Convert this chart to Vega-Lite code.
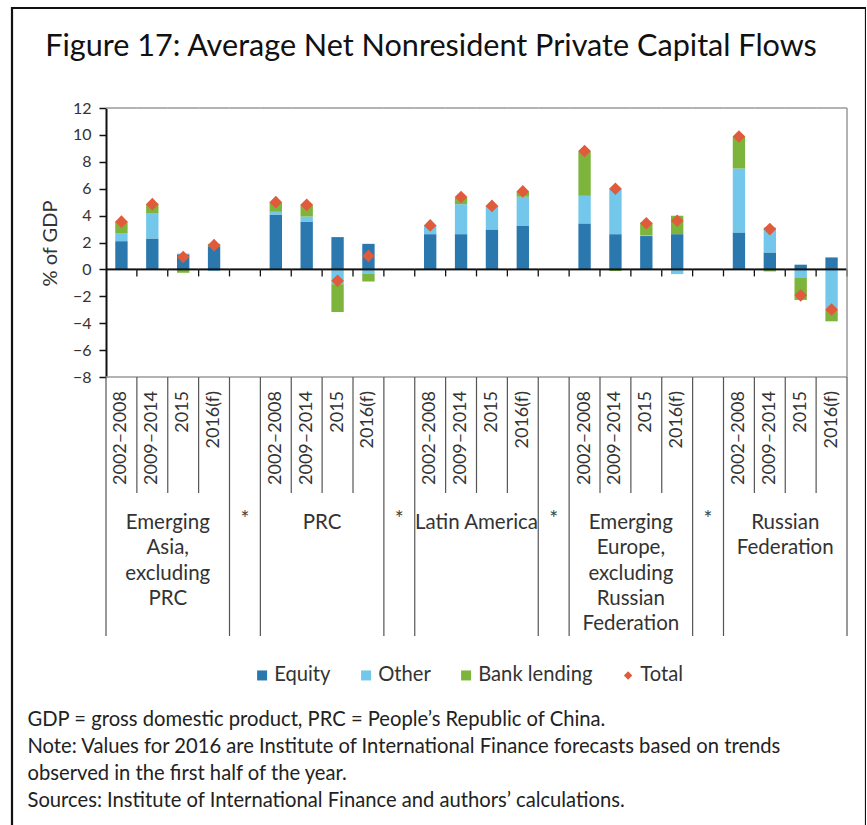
{
  "$schema": "https://vega.github.io/schema/vega-lite/v6.json",
  "width": 854,
  "height": 830,
  "autosize": {"type": "none"},
  "padding": {"left": 12, "top": 8, "right": 0, "bottom": 0},
  "background": "white",
  "config": {
    "view": {"stroke": "#111", "strokeWidth": 2.2},
    "font": "Lato",
    "axis": {"labelFont": "Lato", "titleFont": "Lato"},
    "legend": {"labelFont": "Lato"}
  },
  "title": {
    "text": "Figure 17: Average Net Nonresident Private Capital Flows",
    "font": "Lato",
    "fontSize": 30.6,
    "fontWeight": "normal",
    "color": "#111",
    "anchor": "middle",
    "frame": "group",
    "baseline": "alphabetic",
    "offset": -79,
    "dx": -8
  },
  "datasets": {
    "slots": [
      {"slot": "EA 2002–2008", "period": "2002–2008", "group": "Emerging\nAsia,\nexcluding\nPRC"},
      {"slot": "EA 2009–2014", "period": "2009–2014", "group": "Emerging\nAsia,\nexcluding\nPRC"},
      {"slot": "EA 2015", "period": "2015", "group": "Emerging\nAsia,\nexcluding\nPRC"},
      {"slot": "EA 2016(f)", "period": "2016(f)", "group": "Emerging\nAsia,\nexcluding\nPRC"},
      {"slot": "S1", "period": "*", "group": "*"},
      {"slot": "PRC 2002–2008", "period": "2002–2008", "group": "PRC"},
      {"slot": "PRC 2009–2014", "period": "2009–2014", "group": "PRC"},
      {"slot": "PRC 2015", "period": "2015", "group": "PRC"},
      {"slot": "PRC 2016(f)", "period": "2016(f)", "group": "PRC"},
      {"slot": "S2", "period": "*", "group": "*"},
      {"slot": "LA 2002–2008", "period": "2002–2008", "group": "Latin America"},
      {"slot": "LA 2009–2014", "period": "2009–2014", "group": "Latin America"},
      {"slot": "LA 2015", "period": "2015", "group": "Latin America"},
      {"slot": "LA 2016(f)", "period": "2016(f)", "group": "Latin America"},
      {"slot": "S3", "period": "*", "group": "*"},
      {"slot": "EE 2002–2008", "period": "2002–2008", "group": "Emerging\nEurope,\nexcluding\nRussian\nFederation"},
      {"slot": "EE 2009–2014", "period": "2009–2014", "group": "Emerging\nEurope,\nexcluding\nRussian\nFederation"},
      {"slot": "EE 2015", "period": "2015", "group": "Emerging\nEurope,\nexcluding\nRussian\nFederation"},
      {"slot": "EE 2016(f)", "period": "2016(f)", "group": "Emerging\nEurope,\nexcluding\nRussian\nFederation"},
      {"slot": "S4", "period": "*", "group": "*"},
      {"slot": "RU 2002–2008", "period": "2002–2008", "group": "Russian\nFederation"},
      {"slot": "RU 2009–2014", "period": "2009–2014", "group": "Russian\nFederation"},
      {"slot": "RU 2015", "period": "2015", "group": "Russian\nFederation"},
      {"slot": "RU 2016(f)", "period": "2016(f)", "group": "Russian\nFederation"}
    ],
    "flows": [
      {"slot": "EA 2002–2008", "component": "Equity", "value": 2.1},
      {"slot": "EA 2002–2008", "component": "Other", "value": 0.6},
      {"slot": "EA 2002–2008", "component": "Bank lending", "value": 0.85},
      {"slot": "EA 2002–2008", "component": "Total", "value": 3.55},
      {"slot": "EA 2009–2014", "component": "Equity", "value": 2.3},
      {"slot": "EA 2009–2014", "component": "Other", "value": 1.85},
      {"slot": "EA 2009–2014", "component": "Bank lending", "value": 0.72},
      {"slot": "EA 2009–2014", "component": "Total", "value": 4.85},
      {"slot": "EA 2015", "component": "Equity", "value": 1.12},
      {"slot": "EA 2015", "component": "Other", "value": 0.06},
      {"slot": "EA 2015", "component": "Bank lending", "value": -0.25},
      {"slot": "EA 2015", "component": "Total", "value": 0.92},
      {"slot": "EA 2016(f)", "component": "Equity", "value": 1.72},
      {"slot": "EA 2016(f)", "component": "Other", "value": -0.12},
      {"slot": "EA 2016(f)", "component": "Bank lending", "value": 0.18},
      {"slot": "EA 2016(f)", "component": "Total", "value": 1.8},
      {"slot": "PRC 2002–2008", "component": "Equity", "value": 4.08},
      {"slot": "PRC 2002–2008", "component": "Other", "value": 0.2},
      {"slot": "PRC 2002–2008", "component": "Bank lending", "value": 0.72},
      {"slot": "PRC 2002–2008", "component": "Total", "value": 5.0},
      {"slot": "PRC 2009–2014", "component": "Equity", "value": 3.56},
      {"slot": "PRC 2009–2014", "component": "Other", "value": 0.37},
      {"slot": "PRC 2009–2014", "component": "Bank lending", "value": 0.87},
      {"slot": "PRC 2009–2014", "component": "Total", "value": 4.8},
      {"slot": "PRC 2015", "component": "Equity", "value": 2.4},
      {"slot": "PRC 2015", "component": "Other", "value": -1.1},
      {"slot": "PRC 2015", "component": "Bank lending", "value": -2.07},
      {"slot": "PRC 2015", "component": "Total", "value": -0.85},
      {"slot": "PRC 2016(f)", "component": "Equity", "value": 1.9},
      {"slot": "PRC 2016(f)", "component": "Other", "value": -0.3},
      {"slot": "PRC 2016(f)", "component": "Bank lending", "value": -0.6},
      {"slot": "PRC 2016(f)", "component": "Total", "value": 1.0},
      {"slot": "LA 2002–2008", "component": "Equity", "value": 2.62},
      {"slot": "LA 2002–2008", "component": "Other", "value": 0.6},
      {"slot": "LA 2002–2008", "component": "Bank lending", "value": 0.05},
      {"slot": "LA 2002–2008", "component": "Total", "value": 3.27},
      {"slot": "LA 2009–2014", "component": "Equity", "value": 2.62},
      {"slot": "LA 2009–2014", "component": "Other", "value": 2.23},
      {"slot": "LA 2009–2014", "component": "Bank lending", "value": 0.5},
      {"slot": "LA 2009–2014", "component": "Total", "value": 5.38},
      {"slot": "LA 2015", "component": "Equity", "value": 2.97},
      {"slot": "LA 2015", "component": "Other", "value": 1.68},
      {"slot": "LA 2015", "component": "Bank lending", "value": 0.08},
      {"slot": "LA 2015", "component": "Total", "value": 4.72},
      {"slot": "LA 2016(f)", "component": "Equity", "value": 3.27},
      {"slot": "LA 2016(f)", "component": "Other", "value": 2.13},
      {"slot": "LA 2016(f)", "component": "Bank lending", "value": 0.37},
      {"slot": "LA 2016(f)", "component": "Total", "value": 5.8},
      {"slot": "EE 2002–2008", "component": "Equity", "value": 3.42},
      {"slot": "EE 2002–2008", "component": "Other", "value": 2.05},
      {"slot": "EE 2002–2008", "component": "Bank lending", "value": 3.32},
      {"slot": "EE 2002–2008", "component": "Total", "value": 8.8},
      {"slot": "EE 2009–2014", "component": "Equity", "value": 2.62},
      {"slot": "EE 2009–2014", "component": "Other", "value": 3.37},
      {"slot": "EE 2009–2014", "component": "Bank lending", "value": -0.12},
      {"slot": "EE 2009–2014", "component": "Total", "value": 6.0},
      {"slot": "EE 2015", "component": "Equity", "value": 2.48},
      {"slot": "EE 2015", "component": "Other", "value": 0.05},
      {"slot": "EE 2015", "component": "Bank lending", "value": 0.94},
      {"slot": "EE 2015", "component": "Total", "value": 3.43},
      {"slot": "EE 2016(f)", "component": "Equity", "value": 2.62},
      {"slot": "EE 2016(f)", "component": "Other", "value": -0.35},
      {"slot": "EE 2016(f)", "component": "Bank lending", "value": 1.37},
      {"slot": "EE 2016(f)", "component": "Total", "value": 3.62},
      {"slot": "RU 2002–2008", "component": "Equity", "value": 2.75},
      {"slot": "RU 2002–2008", "component": "Other", "value": 4.75},
      {"slot": "RU 2002–2008", "component": "Bank lending", "value": 2.35},
      {"slot": "RU 2002–2008", "component": "Total", "value": 9.88},
      {"slot": "RU 2009–2014", "component": "Equity", "value": 1.26},
      {"slot": "RU 2009–2014", "component": "Other", "value": 1.86},
      {"slot": "RU 2009–2014", "component": "Bank lending", "value": -0.15},
      {"slot": "RU 2009–2014", "component": "Total", "value": 3.0},
      {"slot": "RU 2015", "component": "Equity", "value": 0.35},
      {"slot": "RU 2015", "component": "Other", "value": -0.64},
      {"slot": "RU 2015", "component": "Bank lending", "value": -1.63},
      {"slot": "RU 2015", "component": "Total", "value": -1.93},
      {"slot": "RU 2016(f)", "component": "Equity", "value": 0.89},
      {"slot": "RU 2016(f)", "component": "Other", "value": -3.02},
      {"slot": "RU 2016(f)", "component": "Bank lending", "value": -0.84},
      {"slot": "RU 2016(f)", "component": "Total", "value": -2.98}
    ]
  },
  "layer": [
    {
      "data": {"name": "flows"},
      "transform": [
        {"filter": "datum.component !== 'Total'"},
        {"calculate": "indexof(['Equity', 'Other', 'Bank lending'], datum.component)", "as": "stack_rank"}
      ],
      "mark": {"type": "bar", "width": {"band": 0.4}},
      "encoding": {
        "x": {
          "field": "slot", "type": "nominal",
          "scale": {
            "domain": ["EA 2002–2008","EA 2009–2014","EA 2015","EA 2016(f)","S1","PRC 2002–2008","PRC 2009–2014","PRC 2015","PRC 2016(f)","S2","LA 2002–2008","LA 2009–2014","LA 2015","LA 2016(f)","S3","EE 2002–2008","EE 2009–2014","EE 2015","EE 2016(f)","S4","RU 2002–2008","RU 2009–2014","RU 2015","RU 2016(f)"],
            "range": [94, 835],
            "paddingInner": 0,
            "paddingOuter": 0
          },
          "axis": {
            "orient": "bottom",
            "labels": false, "ticks": false, "domain": false, "grid": false,
            "title": [
              "GDP = gross domestic product, PRC = People’s Republic of China.",
              "Note: Values for 2016 are Institute of International Finance forecasts based on trends",
              "observed in the first half of the year.",
              "Sources: Institute of International Finance and authors’ calculations."
            ],
            "titleFontSize": 20.2,
            "titleFontWeight": "normal",
            "titleColor": "#222",
            "titleAlign": "left",
            "titleAnchor": "start",
            "titleBaseline": "alphabetic",
            "titleLineHeight": 27.3,
            "titleX": 15,
            "titleY": -113
          }
        },
        "y": {
          "field": "value", "type": "quantitative", "stack": "zero",
          "scale": {"domain": [-8, 12], "range": [369, 100], "nice": false, "zero": false},
          "axis": {
            "orient": "left", "offset": -94,
            "values": [-8, -6, -4, -2, 0, 2, 4, 6, 8, 10, 12],
            "grid": false,
            "domainColor": "#111", "domainWidth": 2,
            "tickColor": "#111", "tickWidth": 1.5, "tickSize": 7,
            "labelFontSize": 16, "labelColor": "#333", "labelPadding": 8,
            "title": "% of GDP",
            "titleFontSize": 20, "titleFontWeight": "normal", "titleColor": "#333",
            "titleX": -56, "titleY": 235, "titleAngle": 270,
            "titleAlign": "center", "titleBaseline": "middle"
          }
        },
        "order": {"field": "stack_rank", "type": "quantitative", "sort": "ascending"},
        "color": {
          "field": "component", "type": "nominal",
          "scale": {
            "domain": ["Equity", "Other", "Bank lending", "Total"],
            "range": ["#2a78ae", "#72c7ea", "#7db43b", "#e05b3c"]
          },
          "legend": {
            "title": null,
            "orient": "none",
            "direction": "horizontal",
            "legendX": 240,
            "legendY": 657,
            "padding": 0,
            "labelFontSize": 20.2,
            "labelColor": "#333",
            "labelOffset": 2,
            "columnPadding": 25,
            "symbolSize": 100,
            "symbolStrokeWidth": 0,
            "encode": {
              "symbols": {
                "update": {
                  "shape": {"signal": "datum.value === 'Total' ? 'diamond' : 'square'"},
                  "size": {"signal": "datum.value === 'Total' ? 70 : 100"}
                }
              }
            }
          }
        }
      }
    },
    {
      "data": {"name": "slots"},
      "mark": {"type": "rule", "color": "#111", "strokeWidth": 2},
      "encoding": {
        "x": {"field": "slot", "type": "nominal", "bandPosition": 0},
        "x2": {"field": "slot", "bandPosition": 1},
        "y": {"datum": 0}
      }
    },
    {
      "data": {"name": "slots"},
      "mark": {"type": "rule", "color": "#111", "strokeWidth": 1.3},
      "encoding": {
        "x": {"field": "slot", "type": "nominal", "bandPosition": 1},
        "y": {"datum": 0},
        "y2": {"datum": -0.52}
      }
    },
    {
      "data": {"name": "slots"},
      "mark": {"type": "rule", "color": "#9a9a9a", "strokeWidth": 1.5},
      "encoding": {
        "x": {"field": "slot", "type": "nominal", "bandPosition": 0},
        "x2": {"field": "slot", "bandPosition": 1},
        "y": {"datum": 12}
      }
    },
    {
      "data": {"name": "slots"},
      "mark": {"type": "rule", "color": "#9a9a9a", "strokeWidth": 1.5},
      "encoding": {
        "x": {"field": "slot", "type": "nominal", "bandPosition": 0},
        "x2": {"field": "slot", "bandPosition": 1},
        "y": {"datum": -8}
      }
    },
    {
      "data": {"name": "slots"},
      "transform": [{"filter": "datum.slot === 'RU 2016(f)'"}],
      "mark": {"type": "rule", "color": "#9a9a9a", "strokeWidth": 1.5},
      "encoding": {
        "x": {"field": "slot", "type": "nominal", "bandPosition": 1},
        "y": {"datum": 12},
        "y2": {"datum": -8}
      }
    },
    {
      "data": {"name": "slots"},
      "transform": [{"filter": "datum.period === '2009–2014' || datum.period === '2015' || datum.period === '2016(f)'"}],
      "mark": {"type": "rule", "color": "#555", "strokeWidth": 1.2},
      "encoding": {
        "x": {"field": "slot", "type": "nominal", "bandPosition": 0},
        "y": {"datum": -8},
        "y2": {"datum": -16.62}
      }
    },
    {
      "data": {"name": "slots"},
      "transform": [{"filter": "datum.period === '2002–2008' || datum.period === '*'"}],
      "mark": {"type": "rule", "color": "#555", "strokeWidth": 1.2},
      "encoding": {
        "x": {"field": "slot", "type": "nominal", "bandPosition": 0},
        "y": {"datum": -8},
        "y2": {"datum": -27.26}
      }
    },
    {
      "data": {"name": "slots"},
      "transform": [{"filter": "datum.slot === 'RU 2016(f)'"}],
      "mark": {"type": "rule", "color": "#555", "strokeWidth": 1.2},
      "encoding": {
        "x": {"field": "slot", "type": "nominal", "bandPosition": 1},
        "y": {"datum": -8},
        "y2": {"datum": -27.26}
      }
    },
    {
      "data": {"name": "slots"},
      "transform": [{"filter": "datum.period !== '*'"}],
      "mark": {"type": "text", "angle": 270, "align": "right", "baseline": "middle", "fontSize": 18, "color": "#333", "font": "Lato"},
      "encoding": {
        "x": {"field": "slot", "type": "nominal"},
        "y": {"datum": -9.04},
        "text": {"field": "period"}
      }
    },
    {
      "data": {"name": "slots"},
      "transform": [{"filter": "datum.period === '2009–2014'"}],
      "mark": {"type": "text", "align": "center", "baseline": "alphabetic", "fontSize": 20.5, "lineHeight": 25.3, "lineBreak": "\n", "color": "#333", "font": "Lato"},
      "encoding": {
        "x": {"field": "slot", "type": "nominal", "bandPosition": 1},
        "y": {"datum": -19.3},
        "text": {"field": "group"}
      }
    },
    {
      "data": {"name": "slots"},
      "transform": [{"filter": "datum.period === '*'"}],
      "mark": {"type": "text", "align": "center", "baseline": "alphabetic", "fontSize": 21, "color": "#444", "font": "Lato"},
      "encoding": {
        "x": {"field": "slot", "type": "nominal"},
        "y": {"datum": -19.1},
        "text": {"field": "group"}
      }
    },
    {
      "data": {"name": "flows"},
      "transform": [{"filter": "datum.component === 'Total'"}],
      "mark": {"type": "point", "shape": "diamond", "filled": true, "size": 160, "opacity": 1, "strokeWidth": 0},
      "encoding": {
        "x": {"field": "slot", "type": "nominal"},
        "y": {"field": "value", "type": "quantitative"},
        "color": {"field": "component", "type": "nominal"}
      }
    }
  ]
}
